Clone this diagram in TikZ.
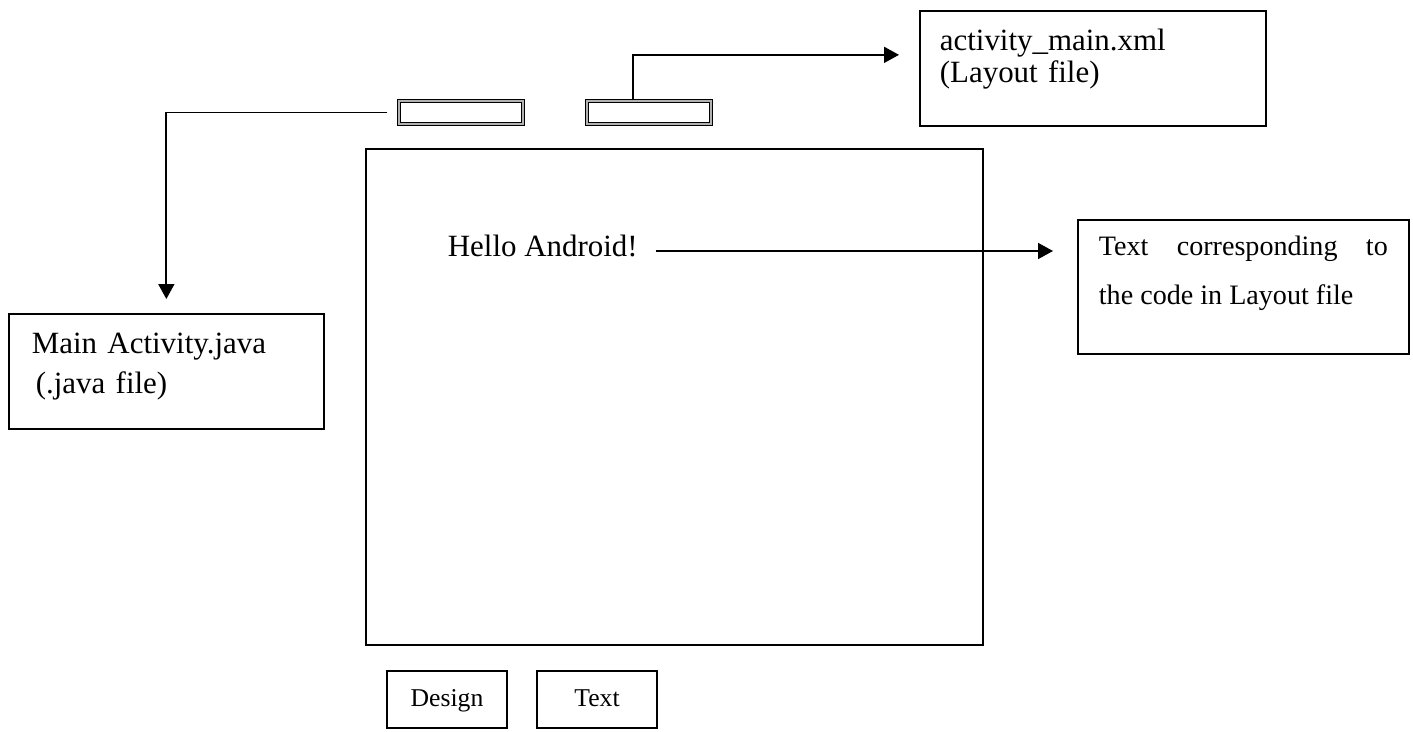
\documentclass[tikz,border=0pt]{standalone}
\usepackage{fontspec}
\setmainfont{Liberation Serif}
\usetikzlibrary{arrows.meta}

\begin{document}
\begin{tikzpicture}[x=0.02cm, y=-0.02cm, line width=1pt,
    box/.style={draw, anchor=north west, inner ysep=0pt, align=left},
    tabbox/.style={draw=black, double=gray!60, double distance=1.4pt, line width=0.6pt, fill=white, minimum width=2.48cm, minimum height=0.46cm, inner sep=0pt},
    btn/.style={draw, minimum width=2.4cm, minimum height=1.14cm, text height=0.4cm, text depth=0.1cm, font=\fontsize{14.6}{17}\selectfont},
    link/.style={-{Triangle[length=0.3cm,width=0.32cm]}}]
      \useasboundingbox (0,0) rectangle (1413,732);

      \node[tabbox] (tabL) at (461,112.5) {};
      \node[tabbox] (tabR) at (649,112.5) {};

      \node[draw, line width=1.3pt, minimum width=12.34cm, minimum height=9.92cm] (screen) at (674.5,397) {};

      \node[box, text height=0.8cm, text depth=1.5cm, inner xsep=0.4cm, text width=6.12cm,
        font=\fontsize{17.6}{18.2}\selectfont] (xml) at (919,10) {
        activity\_main.xml\\
        (Layout file)
      };

      \node[box, text height=0.8cm, text depth=1.5cm, inner xsep=0.46cm, text width=5.38cm,
        font=\fontsize{17.6}{22.8}\selectfont] (java) at (8,313) {
        Main Activity.java\\
        \hspace*{0.08cm}(.java file)
      };

      \node[box, align=justify, text height=0.72cm, text depth=1.96cm, inner xsep=0.42cm, text width=5.78cm,
        font=\fontsize{16}{27.8}\selectfont] (code) at (1077,219) {Text corresponding to\linebreak the code in Layout file};

      \node[anchor=base west, inner sep=0pt, font=\fontsize{17.6}{21}\selectfont] (hello) at (447,257) {Hello Android!};

      \node[btn] (design) at (447,699.5) {Design};
      \node[btn] (text) at (597,699.5) {Text};

      \draw[link, shorten <=0.22cm, shorten >=0.28cm] (tabL.west) -| (java.north);
      \draw[link, shorten >=0.4cm] ([xshift=-0.32cm]tabR.north) |- ([yshift=0.27cm]xml.west);
      \draw[link, shorten <=0.34cm, shorten >=0.48cm] ([yshift=0.12cm]hello.base east) -- ([yshift=0.12cm]hello.base east -| code.west);
    \end{tikzpicture}
\end{document}
